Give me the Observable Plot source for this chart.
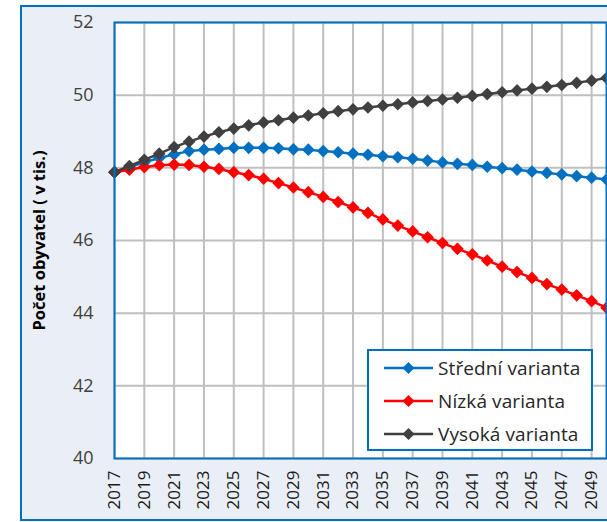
<!DOCTYPE html>
<html>
<head>
<meta charset="utf-8">
<script src="https://cdn.jsdelivr.net/npm/d3@7"></script>
<script src="https://cdn.jsdelivr.net/npm/@observablehq/plot@0.6"></script>
<style>
  body { margin: 0; background: #ffffff; }
  #wrap { position: relative; width: 607px; height: 522px; overflow: hidden; font-family: "Open Sans", sans-serif; }
  #box { position: absolute; left: 20px; top: 5px; width: 640px; height: 512px; border: 2px solid #0070C0; background: #EAEFF7; }
  #chart { position: absolute; left: 0; top: 0; }
  #legend { position: absolute; left: 367px; top: 349px; width: 226px; height: 102px; box-sizing: border-box; border: 2px solid #0070C0; background: #ffffff; }
  .row { height: 33px; display: flex; align-items: center; }
  .row svg { margin-left: 15px; margin-right: 5px; flex: none; }
  .row span { font-size: 19px; color: #262626; white-space: nowrap; letter-spacing: 0.1px; }
</style>
</head>
<body>
<div id="wrap">
  <div id="box"></div>
  <div id="chart"></div>
  <div id="legend"></div>
</div>
<script>
const years = [2017,2018,2019,2020,2021,2022,2023,2024,2025,2026,2027,2028,2029,2030,2031,2032,2033,2034,2035,2036,2037,2038,2039,2040,2041,2042,2043,2044,2045,2046,2047,2048,2049,2050];
const stredni = [47.88,48.02,48.15,48.27,48.37,48.46,48.50,48.52,48.55,48.55,48.55,48.54,48.51,48.50,48.46,48.43,48.39,48.36,48.32,48.29,48.25,48.20,48.15,48.11,48.08,48.03,47.99,47.95,47.90,47.86,47.82,47.77,47.73,47.68];
const nizka = [47.88,47.95,48.02,48.07,48.09,48.08,48.03,47.97,47.88,47.80,47.70,47.58,47.46,47.33,47.20,47.06,46.91,46.76,46.58,46.41,46.25,46.09,45.93,45.77,45.62,45.45,45.28,45.13,44.97,44.80,44.65,44.49,44.33,44.15];
const vysoka = [47.88,48.05,48.22,48.39,48.57,48.72,48.86,48.98,49.08,49.17,49.25,49.31,49.38,49.44,49.50,49.56,49.61,49.66,49.71,49.75,49.80,49.84,49.88,49.93,49.98,50.03,50.08,50.13,50.18,50.23,50.28,50.34,50.40,50.47];
const seriesNames = ["Střední varianta", "Nízká varianta", "Vysoká varianta"];
const seriesColors = ["#0070C0", "#FF0000", "#404040"];
const xTicks = [2017,2019,2021,2023,2025,2027,2029,2031,2033,2035,2037,2039,2041,2043,2045,2047,2049];
const yTicks = [40,42,44,46,48,50,52];
const yLabel = "Počet obyvatel ( v tis.)";

const seriesValues = [stredni, nizka, vysoka];
const tables = seriesValues.map((vals, i) => years.map((y, j) => ({year: y, value: vals[j], series: seriesNames[i]})));

const marks = [
  Plot.frame({fill: "#ffffff"}),
  Plot.gridX(xTicks, {stroke: "#BFBFBF", strokeOpacity: 1, strokeWidth: 2}),
  Plot.gridY(yTicks, {stroke: "#BFBFBF", strokeOpacity: 1, strokeWidth: 2})
];
tables.forEach((t, i) => {
  marks.push(Plot.line(t, {x: "year", y: "value", stroke: seriesColors[i], strokeWidth: 2.5}));
  marks.push(Plot.dot(t, {x: "year", y: "value", symbol: "diamond2", fill: seriesColors[i], r: 5.7}));
});
marks.push(Plot.frame({stroke: "#0070C0", strokeWidth: 2}));
marks.push(Plot.axisY(yTicks, {tickSize: 0, tickPadding: 21, fontSize: 18, color: "#404040", label: null}));
marks.push(Plot.axisY([], {label: yLabel, labelAnchor: "center", labelArrow: "none", labelOffset: 81, fontSize: 16.5, fontWeight: "bold", color: "#000"}));
marks.push(Plot.axisX(xTicks, {tickSize: 0, tickPadding: 12, tickRotate: -90, fontSize: 17, color: "#1a1a1a", tickFormat: d => String(d), label: null}));

const chart = Plot.plot({
  width: 607,
  height: 522,
  marginLeft: 114,
  marginRight: 1,
  marginTop: 22,
  marginBottom: 64,
  style: {background: "transparent", fontFamily: "Open Sans, sans-serif", overflow: "visible"},
  x: {domain: [2017, 2050]},
  y: {domain: [40, 52]},
  marks
});
document.getElementById("chart").appendChild(chart);

const legend = document.getElementById("legend");
seriesNames.forEach((name, i) => {
  const row = document.createElement("div");
  row.className = "row";
  row.innerHTML = `<svg width="49" height="14"><line x1="0" y1="7" x2="49" y2="7" stroke="${seriesColors[i]}" stroke-width="2.5"/><polygon points="24.5,1 30.5,7 24.5,13 18.5,7" fill="${seriesColors[i]}"/></svg><span>${name}</span>`;
  legend.appendChild(row);
});
</script>
</body>
</html>
